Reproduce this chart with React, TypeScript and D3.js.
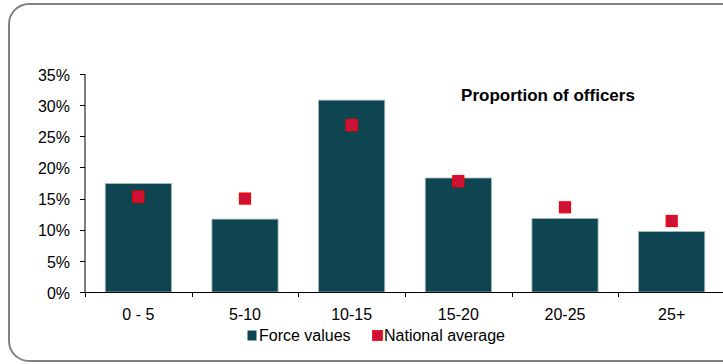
import * as React from 'react'
import * as d3 from 'd3'

const categories = ['0 - 5', '5-10', '10-15', '15-20', '20-25', '25+']
const forceValues = [0.174, 0.117, 0.308, 0.183, 0.118, 0.097]
const nationalAverage = [0.153, 0.150, 0.268, 0.178, 0.136, 0.114]
const yTicks = [0, 0.05, 0.1, 0.15, 0.2, 0.25, 0.3, 0.35]

const W = 723
const H = 364
const FONT = 'Liberation Sans, Arial, sans-serif'
const BAR = '#0f4551'
const MARK = '#cc1238'
const FS = 16

const App = () => {
  const x = d3.scaleBand<string>()
    .domain(categories)
    .range([85, 725])
    .paddingInner(0.38)
    .paddingOuter(0.19)
  const y = d3.scaleLinear().domain([0, 0.35]).range([292, 74])
  const fmt = d3.format('.0%')
  const edges = d3.range(categories.length + 1).map(i => 85 + i * x.step())

  return (
    <svg width={W} height={H} style={{ position: 'absolute', left: 0, top: 0 }} fontFamily={FONT}>
      <rect x={9} y={4} width={760} height={357} rx={20} fill="#fff" stroke="#808080" strokeWidth={2} />

      {/* bars */}
      {categories.map((c, i) => (
        <rect key={c} x={x(c)} y={y(forceValues[i])} width={x.bandwidth()}
          height={y(0) - y(forceValues[i])} fill={BAR} stroke="#9fb8be" strokeWidth={0.8} />
      ))}

      {/* national average markers */}
      {categories.map((c, i) => (
        <rect key={c} x={(x(c) as number) + x.bandwidth() / 2 - 5.5} y={y(nationalAverage[i]) - 5.5}
          width={11} height={11} fill={MARK} stroke="#ff0000" strokeWidth={1.2} />
      ))}

      {/* y axis */}
      <line x1={85} x2={85} y1={y(0.35)} y2={y(0)} stroke="#000" />
      {yTicks.map(t => (
        <g key={t}>
          <line x1={80} x2={85} y1={Math.round(y(t)) + 0.5} y2={Math.round(y(t)) + 0.5} stroke="#000" />
          <text x={70} y={y(t)} dy="0.42em" textAnchor="end" fontSize={FS} fill="#000">{fmt(t)}</text>
        </g>
      ))}

      {/* x axis */}
      <line x1={80} x2={W} y1={y(0) + 0.5} y2={y(0) + 0.5} stroke="#000" />
      {edges.map(e => (
        <line key={e} x1={Math.round(e) + 0.5} x2={Math.round(e) + 0.5} y1={y(0)} y2={y(0) + 5} stroke="#000" />
      ))}
      {categories.map(c => (
        <text key={c} x={(x(c) as number) + x.bandwidth() / 2} y={319.5} textAnchor="middle" fontSize={FS} fill="#000">{c}</text>
      ))}

      {/* title */}
      <text x={548} y={100.5} textAnchor="middle" fontSize={17} fontWeight="bold" fill="#000">Proportion of officers</text>

      {/* legend */}
      <rect x={247.5} y={330.5} width={9} height={10} fill={BAR} />
      <text x={259} y={340.5} fontSize={FS} fill="#000">Force values</text>
      <rect x={372.5} y={330.5} width={10} height={10} fill={MARK} stroke="#ff0000" strokeWidth={0.8} />
      <text x={384} y={340.5} fontSize={FS} fill="#000">National average</text>
    </svg>
  )
}

export default App
